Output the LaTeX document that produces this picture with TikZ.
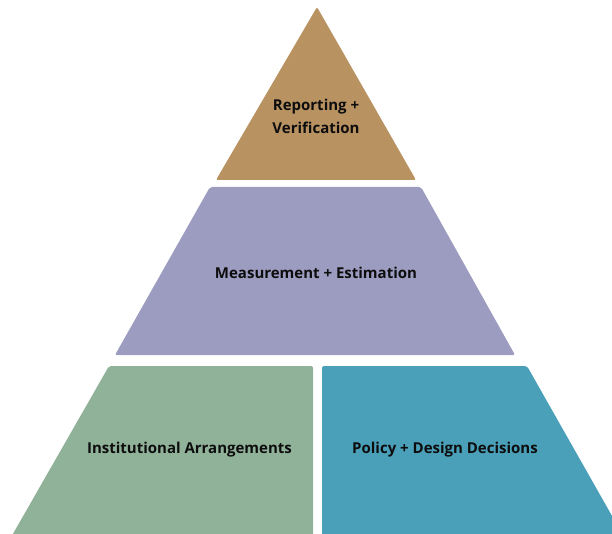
\documentclass[tikz,border=0pt]{standalone}
\usepackage{fontspec}
\setmainfont{Open Sans}
\definecolor{topbrown}{RGB}{185,146,98}
\definecolor{midpurple}{RGB}{156,155,192}
\definecolor{lowgreen}{RGB}{144,178,153}
\definecolor{lowblue}{RGB}{74,159,185}
\tikzset{
	tier/.style={rounded corners=2pt},
	lbl/.style={font=\bfseries\fontsize{15}{23}\selectfont, text=black!95, align=center}
}

\begin{document}
\begin{tikzpicture}[x=1pt,y=-1pt]
	\useasboundingbox (0,0) rectangle (612,534);
	\clip (0,0) rectangle (612,534);
	% top
	\fill[tier, topbrown] (317,7) -- (416,180) -- (216,180) -- cycle;
	% middle
	\fill[tier, midpurple] (210,187) -- (421,187) -- (515,355) -- (115,355) -- cycle;
	% bottom row
	\fill[tier, lowgreen] (109,366) -- (313,366) -- (313,560) -- (-2,560) -- cycle;
	\fill[tier, lowblue] (322,366) -- (527,366) -- (637,560) -- (322,560) -- cycle;
	\node[lbl] (rep) at (316,116.5) {Reporting +\\Verification};
	\node[lbl] (mes) at (316,273) {Measurement + Estimation};
	\node[lbl] (ins) at (189.5,450) {Institutional Arrangements};
	\node[lbl] (pol) at (445,450) {Policy + Design Decisions};
\end{tikzpicture}
\end{document}
